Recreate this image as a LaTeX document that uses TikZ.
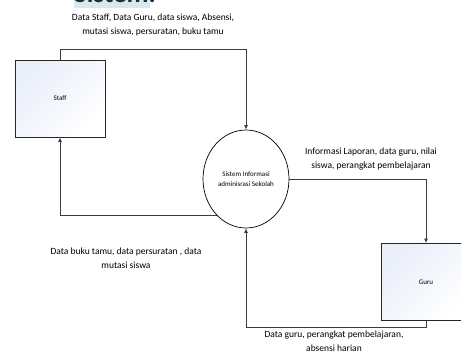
\documentclass[tikz,border=0pt]{standalone}
\usepackage{fontspec}
\setmainfont{Carlito}
\usetikzlibrary{arrows.meta,shapes.geometric}

\definecolor{boxshade}{HTML}{E9EEF9}
\definecolor{flowline}{HTML}{3C3C3C}
\definecolor{titlemark}{HTML}{D6E9EC}
\definecolor{titleink}{HTML}{1E2B38}

\tikzset{
  entity/.style={draw=black!85, line width=0.8pt, minimum width=90pt, minimum height=77pt,
    inner sep=0pt, shading=axis, top color=boxshade, bottom color=white, shading angle=45,
    font=\fontsize{7}{9}\selectfont},
  process/.style={draw=black, line width=0.7pt, ellipse, minimum width=86pt, minimum height=98pt,
    inner sep=0pt, align=center, font=\fontsize{7}{10}\selectfont},
  flow/.style={draw=flowline, line width=0.9pt, -{Latex[length=4.5pt,width=4pt]}},
  flowlabel/.style={align=center, inner sep=0pt, font=\fontsize{9.5}{14}\selectfont}
}

\begin{document}
\begin{tikzpicture}[x=1pt, y=-1pt]
  \useasboundingbox (0,0) rectangle (461,356);
  \begin{scope}
    \clip (0,0) rectangle (461,356);
    % heading, only its lower edge shows
    \fill[titlemark] (74,-20) rectangle (150,8);
    \node[anchor=base west, inner sep=0pt, text=titleink,
          font=\fontsize{27}{30}\selectfont\bfseries] (heading) at (74,2) {Sistem.};

    % external entities and the process
    \node[entity] (staff) at (60,98.5) {Staff};
    \node[entity] (guru) at (426,282) {Guru};
    \node[process] (sys) at (246,179) {Sistem Informasi\\adminisrasi Sekolah};

    % data flows
    \draw[flow] (staff.north) -- ++(0,-10) -| (sys.north);
    \draw[flow] (sys.east) -| (guru.north);
    \draw[flow] (guru.south) -- ++(0,7) -| (sys.south);
    \draw[flow] (sys.231) -| (staff.south);

    % flow labels
    \node[flowlabel] (l1) at (153,24.5) {Data Staff, Data Guru, data siswa, Absensi,\\mutasi siswa, persuratan, buku tamu};
    \node[flowlabel] (l2) at (371,159.5) {Informasi Laporan, data guru, nilai\\siswa, perangkat pembelajaran};
    \node[flowlabel] (l3) at (126,258.5) {Data buku tamu, data persuratan , data\\mutasi siswa};
    \node[flowlabel] (l4) at (334,341.5) {Data guru, perangkat pembelajaran,\\absensi harian};
  \end{scope}
\end{tikzpicture}
\end{document}
